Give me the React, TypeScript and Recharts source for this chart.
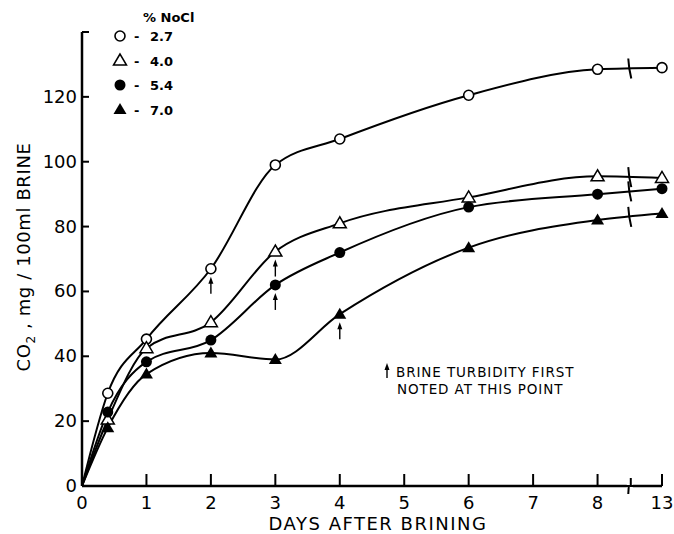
import React from "react";
import {
  LineChart,
  Line,
  XAxis,
  YAxis,
  ReferenceDot,
  Customized,
} from "recharts";

// days after brining; the axis is broken between 8 and 13
const days = [0, 0.4, 1, 2, 3, 4, 6, 8, 13];
const xTickDays = [0, 1, 2, 3, 4, 5, 6, 7, 8, 13];
const yTicks = [0, 20, 40, 60, 80, 100, 120, 140];

// CO2, mg / 100ml brine
const co2_27 = [0, 28.6, 45.3, 67, 99, 107, 120.5, 128.5, 129];
const co2_40 = [0, 20.5, 42.5, 50.5, 72.3, 81, 89, 95.5, 95];
const co2_54 = [0, 22.8, 38.3, 45, 62, 72, 86, 90, 91.7];
const co2_70 = [0, 18, 34.5, 41, 39, 53, 73.5, 82, 84];

// day at which brine turbidity was first noted
const turbidityDays = [2, 3, 3, 4];
const naclLabels = ["2.7", "4.0", "5.4", "7.0"];
const markerKinds = ["circleOpen", "triangleOpen", "circleFilled", "triangleFilled"];

const FONT = "'DejaVu Sans', sans-serif";

// compressed position on the broken axis
const xPos = (d: number) => (d > 8 ? 9 : d);

const seriesValues = [co2_27, co2_40, co2_54, co2_70];
const keys = ["s27", "s40", "s54", "s70"];

const data = days.map((d, i) => {
  const row: any = { pos: xPos(d) };
  keys.forEach((k, j) => (row[k] = seriesValues[j][i]));
  return row;
});

function Marker({ kind, cx, cy }: { kind: string; cx: number; cy: number }) {
  if (cx == null || cy == null) return null;
  if (kind === "circleOpen")
    return <circle cx={cx} cy={cy} r={5} fill="#fff" stroke="#000" strokeWidth={1.6} />;
  if (kind === "circleFilled") return <circle cx={cx} cy={cy} r={5.5} fill="#000" />;
  const pts = `${cx},${cy - 6.5} ${cx - 6.5},${cy + 4.5} ${cx + 6.5},${cy + 4.5}`;
  if (kind === "triangleOpen")
    return <polygon points={pts} fill="#fff" stroke="#000" strokeWidth={1.5} />;
  return <polygon points={pts} fill="#000" />;
}

// the origin is not marked in the figure
const makeDot = (kind: string) => (props: any) =>
  props.index === 0 ? (
    <g key={`${kind}-0`} />
  ) : (
    <Marker key={`${kind}-${props.index}`} kind={kind} cx={props.cx} cy={props.cy} />
  );

const XTick = (props: any) => {
  const { x, y, payload } = props;
  const idx = xTickDays.map(xPos).indexOf(payload.value);
  return (
    <g>
      {payload.value !== 0 && (
        <line x1={x} x2={x} y1={y} y2={y - 12} stroke="#000" strokeWidth={2} />
      )}
      <text x={x} y={y + 23} textAnchor="middle" fontSize={18} fontFamily={FONT} fill="#000">
        {xTickDays[idx]}
      </text>
    </g>
  );
};

const YTick = (props: any) => {
  const { x, y, payload } = props;
  return (
    <g>
      <line x1={x} x2={x + 7} y1={y} y2={y} stroke="#000" strokeWidth={2} />
      {payload.value !== 140 && (
        <text x={x - 5} y={y + 6} textAnchor="end" fontSize={18} fontFamily={FONT} fill="#000">
          {payload.value}
        </text>
      )}
    </g>
  );
};

const LineBreak = (props: any) => {
  const { cx, cy } = props;
  return (
    <path
      d={`M${cx - 1.5},${cy - 10} L${cx - 0.5},${cy} L${cx + 1.5},${cy + 10}`}
      fill="none"
      stroke="#000"
      strokeWidth={2}
    />
  );
};

const AxisBreak = (props: any) => {
  const { cx, cy } = props;
  return (
    <g>
      <rect x={cx - 3} y={cy - 2} width={6} height={4} fill="#fff" />
      <path
        d={`M${cx - 6},${cy} L${cx - 1},${cy} L${cx - 1.5},${cy + 8} M${cx + 1},${cy - 8} L${cx + 1},${cy} L${cx + 6},${cy}`}
        fill="none"
        stroke="#000"
        strokeWidth={2}
      />
    </g>
  );
};

const TurbidityArrow = (props: any) => {
  const { cx, cy } = props;
  const top = cy + 8;
  return (
    <g>
      <line x1={cx} x2={cx} y1={top + 3} y2={top + 17} stroke="#000" strokeWidth={1.4} />
      <polygon points={`${cx},${top} ${cx - 2.5},${top + 7} ${cx + 2.5},${top + 7}`} fill="#000" />
    </g>
  );
};

const LegendBox = () => (
  <g fontFamily={FONT} fontWeight="bold" fontSize={13} fill="#000">
    <text x={143} y={22}>
      % NoCl
    </text>
    {naclLabels.map((lab, i) => {
      const cy = 36 + i * 24.5;
      return (
        <g key={lab}>
          <Marker kind={markerKinds[i]} cx={120} cy={cy} />
          <text x={134} y={cy + 5}>-</text>
          <text x={150} y={cy + 5}>{lab}</text>
        </g>
      );
    })}
  </g>
);

const Annotations = () => (
  <g fontFamily={FONT} fill="#000">
    <text
      transform="translate(30,257) rotate(-90)"
      textAnchor="middle"
      fontSize={18}
      letterSpacing={0.6}
    >
      CO<tspan fontSize={12} dy={5}>2</tspan>
      <tspan dy={-5}> , mg / 100ml BRINE</tspan>
    </text>
    <text x={378} y={530} textAnchor="middle" fontSize={18} letterSpacing={1.5}>
      DAYS AFTER BRINING
    </text>
    <g>
      <line x1={387} x2={387} y1={368} y2={378} stroke="#000" strokeWidth={1.4} />
      <polygon points="387,363 384.5,370 389.5,370" fill="#000" />
    </g>
    <text x={396} y={377} fontSize={13.5} letterSpacing={0.9}>
      BRINE TURBIDITY FIRST
    </text>
    <text x={397} y={394} fontSize={13.5} letterSpacing={0.9}>
      NOTED AT THIS POINT
    </text>
    <LegendBox />
  </g>
);

export default function App() {
  return (
    <div style={{ position: "absolute", left: 0, top: 0, background: "#fff" }}>
      <LineChart
        width={674}
        height={534}
        data={data}
        margin={{ top: 32, right: 12, bottom: 8, left: 0 }}
      >
        <XAxis
          dataKey="pos"
          type="number"
          domain={[0, 9]}
          ticks={xTickDays.map(xPos)}
          height={40}
          tickSize={0}
          tickMargin={0}
          tickLine={false}
          tick={<XTick />}
          axisLine={{ stroke: "#000", strokeWidth: 2.5 }}
          interval={0}
        />
        <YAxis
          type="number"
          domain={[0, 140]}
          ticks={yTicks}
          width={82}
          tickSize={0}
          tickMargin={0}
          tickLine={false}
          tick={<YTick />}
          axisLine={{ stroke: "#000", strokeWidth: 2.5 }}
          interval={0}
        />
        {keys.map((k, j) => (
          <Line
            key={k}
            dataKey={k}
            name={naclLabels[j]}
            type="monotone"
            stroke="#000"
            strokeWidth={2}
            dot={makeDot(markerKinds[j])}
            activeDot={false}
            isAnimationActive={false}
          />
        ))}
        {keys.map((k, j) => (
          <ReferenceDot
            key={`br-${k}`}
            x={8.5}
            y={(seriesValues[j][7] + seriesValues[j][8]) / 2}
            shape={<LineBreak />}
            ifOverflow="visible"
          />
        ))}
        <ReferenceDot x={8.5} y={0} shape={<AxisBreak />} ifOverflow="visible" />
        {keys.map((k, j) => (
          <ReferenceDot
            key={`tb-${k}`}
            x={xPos(turbidityDays[j])}
            y={seriesValues[j][days.indexOf(turbidityDays[j])]}
            shape={<TurbidityArrow />}
            ifOverflow="visible"
          />
        ))}
        <Customized component={<Annotations />} />
      </LineChart>
    </div>
  );
}
